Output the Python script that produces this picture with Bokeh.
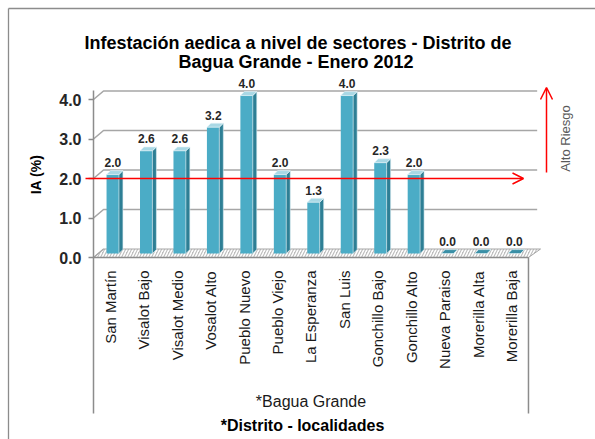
import math
from bokeh.plotting import figure
from bokeh.models import (ColumnDataSource, Range1d, FixedTicker, Arrow, OpenHead,
                          Label, NumeralTickFormatter, LinearAxis)
from bokeh.core.properties import value
from bokeh.embed import file_html
from bokeh.resources import INLINE

# ---------------- data ----------------
categories = ["San Martín", "Visalot Bajo", "Visalot Medio", "Vosalot Alto",
              "Pueblo Nuevo", "Pueblo Viejo", "La Esperanza", "San Luis",
              "Gonchillo Bajo", "Gonchillo Alto", "Nueva Paraiso",
              "Morerilla Alta", "Morerilla Baja"]
ia_values = [2.0, 2.6, 2.6, 3.2, 4.0, 2.0, 1.3, 4.0, 2.3, 2.0, 0.0, 0.0, 0.0]
y_ticks = [0, 1, 2, 3, 4]
threshold = 2.0
title_lines = ["Infestación aedica a nivel de sectores - Distrito de",
               "Bagua Grande - Enero 2012"]
y_title = "IA (%)"
risk_label = "Alto Riesgo"
group_label = "*Bagua Grande"
x_title = "*Distrito - localidades"

# ---------------- layout / style ----------------
W, H = 595, 439
X0_PX, XSTEP = 93.0, 33.46      # pixel of x=-0.5, pixels per category
Y0_PX, YSTEP = 257.0, 39.5      # pixel of y=0, pixels per unit


def px_x(px):
    return -0.5 + (px - X0_PX) / XSTEP


def px_y(py):
    return (Y0_PX - py) / YSTEP


FONT = "Liberation Sans"
FRONT = "#4BACC6"
SIDE = "#2E7F95"
TOP = "#A9D8E5"
FLAT = "#3A8FA6"
AXIS = "#8C8C8C"
GRID = "#A6A6A6"
RED = "#FF0000"

BASE = 0.1              # bar base level (middle of floor depth)
FL, FR = -0.11, 0.26    # front face extent relative to category
SDX, SDY = 0.12, 0.1    # side depth
BDX, BDY = 0.3, 0.215   # back wall offset

n = len(categories)
x_lo, x_hi = -0.5, n - 0.5

p = figure(width=W, height=H,
           x_range=Range1d(px_x(0), px_x(W)), y_range=Range1d(px_y(H), px_y(0)),
           x_axis_type=None, y_axis_type=None, output_backend="svg",
           toolbar_location=None, title=None,
           min_border_left=0, min_border_top=0, min_border_right=0,
           min_border_bottom=0)
p.outline_line_color = None
p.background_fill_color = "white"
p.border_fill_color = "white"
p.grid.visible = False

# outer frame (top + left edges visible)
p.line([px_x(8), px_x(W)], [px_y(8), px_y(8)], line_color=AXIS, line_width=1.3)
p.line([px_x(8), px_x(8)], [px_y(8), px_y(H)], line_color=AXIS, line_width=1.3)

# ---- back gridlines (3D) ----
gx, gy = [], []
for t in y_ticks[1:]:
    gx.append([x_lo, x_lo + BDX, x_hi + BDX - 0.04])
    gy.append([t, t + BDY, t + BDY])
p.multi_line(gx, gy, line_color=GRID, line_width=1.6)

# ---- floor ----
p.patch([x_lo, x_hi, x_hi + 0.36, x_lo + BDX], [0, 0, BDY, BDY],
        fill_color="#BEBEBE", hatch_pattern="/", hatch_color="white",
        hatch_scale=6, hatch_weight=1.6, line_color=GRID, line_width=1)
p.line([x_lo, x_lo + BDX], [0, BDY], line_color=GRID, line_width=1.2)

# ---- bars ----
xs = list(range(n))
src = ColumnDataSource(dict(
    left=[i + FL for i in xs], right=[i + FR for i in xs],
    bottom=[BASE] * n, top=[v + BASE for v in ia_values]))
p.quad(left="left", right="right", bottom="bottom", top="top", source=src,
       fill_color=FRONT, line_color=None)

side_x, side_y, top_x, top_y = [], [], [], []
for i, v in zip(xs, ia_values):
    side_x.append([i + FR, i + FR + SDX, i + FR + SDX, i + FR])
    side_y.append([BASE, BASE + SDY, v + BASE + SDY, v + BASE])
    top_x.append([i + FL, i + FR, i + FR + SDX, i + FL + SDX])
    top_y.append([v + BASE, v + BASE, v + BASE + SDY, v + BASE + SDY])
top_colors = [TOP if v > 0 else FLAT for v in ia_values]
p.patches(side_x, side_y, fill_color=SIDE, line_color="#DDEFF4", line_width=0.6)
p.patches(xs=top_x, ys=top_y, fill_color=top_colors, line_color="#E8F5F9",
          line_width=0.6)

lab_src = ColumnDataSource(dict(x=[i + 0.08 for i in xs],
                                y=[v + BASE for v in ia_values],
                                t=[f"{v:.1f}" for v in ia_values]))
p.text(x="x", y="y", text="t", source=lab_src, text_align="center",
       text_baseline="middle", y_offset=-12, text_font=value(FONT),
       text_font_style="bold", text_font_size="12px", text_color="#262626")

# ---- axes (drawn at fixed data locations inside the canvas) ----
yaxis = LinearAxis(fixed_location=x_lo, ticker=FixedTicker(ticks=y_ticks),
                   formatter=NumeralTickFormatter(format="0.0"))
yaxis.bounds = (0, 4.22)
yaxis.axis_line_color = AXIS
yaxis.axis_line_width = 1.5
yaxis.major_tick_line_color = AXIS
yaxis.major_tick_line_width = 1.5
yaxis.major_tick_out = 5
yaxis.major_tick_in = 0
yaxis.minor_tick_line_color = None
yaxis.major_label_standoff = 7
yaxis.major_label_text_font = FONT
yaxis.major_label_text_font_size = "16px"
yaxis.major_label_text_font_style = "bold"
yaxis.major_label_text_color = "#262626"
p.add_layout(yaxis, "left")

xaxis = LinearAxis(fixed_location=0, ticker=FixedTicker(ticks=xs))
xaxis.major_label_overrides = {i: c for i, c in zip(xs, categories)}
xaxis.major_label_orientation = math.pi / 2
xaxis.bounds = (x_lo, x_hi)
xaxis.axis_line_color = AXIS
xaxis.axis_line_width = 1.5
xaxis.major_tick_line_color = None
xaxis.major_tick_out = 0
xaxis.major_tick_in = 0
xaxis.minor_tick_line_color = None
xaxis.major_label_standoff = 13
xaxis.major_label_text_font = FONT
xaxis.major_label_text_font_size = "15px"
xaxis.major_label_text_color = "#1a1a1a"
p.add_layout(xaxis, "below")

# category group separators
p.segment(x0=[x_lo, x_hi], y0=[0, 0], x1=[x_lo, x_hi], y1=[px_y(413), px_y(413)],
          line_color=AXIS, line_width=1.5)

# ---- threshold arrows ----
p.add_layout(Arrow(end=OpenHead(size=11, line_color=RED, line_width=1.5),
                   x_start=px_x(85), y_start=threshold, x_end=px_x(523),
                   y_end=threshold, line_color=RED, line_width=1.5))
p.add_layout(Arrow(end=OpenHead(size=12, line_color=RED, line_width=1.5),
                   x_start=px_x(546), y_start=px_y(172), x_end=px_x(546),
                   y_end=px_y(87), line_color=RED, line_width=1.5))
p.add_layout(Label(x=px_x(565), y=px_y(138), text=risk_label, angle=math.pi / 2,
                   text_align="center", text_baseline="middle",
                   text_font=FONT, text_font_size="13px", text_color="#595959"))

# ---- texts ----
p.add_layout(Label(x=px_x(297.5), y=px_y(42), text=title_lines[0],
                   text_align="center", text_baseline="middle", text_font=FONT,
                   text_font_size="18px", text_font_style="bold",
                   text_color="#000000"))
p.add_layout(Label(x=px_x(295.5), y=px_y(61.5), text=title_lines[1],
                   text_align="center", text_baseline="middle", text_font=FONT,
                   text_font_size="18px", text_font_style="bold",
                   text_color="#000000"))
p.add_layout(Label(x=px_x(35), y=px_y(174), text=y_title, angle=math.pi / 2,
                   text_align="center", text_baseline="middle", text_font=FONT,
                   text_font_size="14px", text_font_style="bold",
                   text_color="#000000"))
p.add_layout(Label(x=(x_lo + x_hi) / 2, y=px_y(400.7), text=group_label,
                   text_align="center", text_baseline="middle", text_font=FONT,
                   text_font_size="16px", text_color="#1a1a1a"))
p.add_layout(Label(x=px_x(302), y=px_y(425), text=x_title, text_align="center",
                   text_baseline="middle", text_font=FONT, text_font_size="16px",
                   text_font_style="bold", text_color="#000000"))

open("out.html", "w").write(file_html(p, INLINE))
